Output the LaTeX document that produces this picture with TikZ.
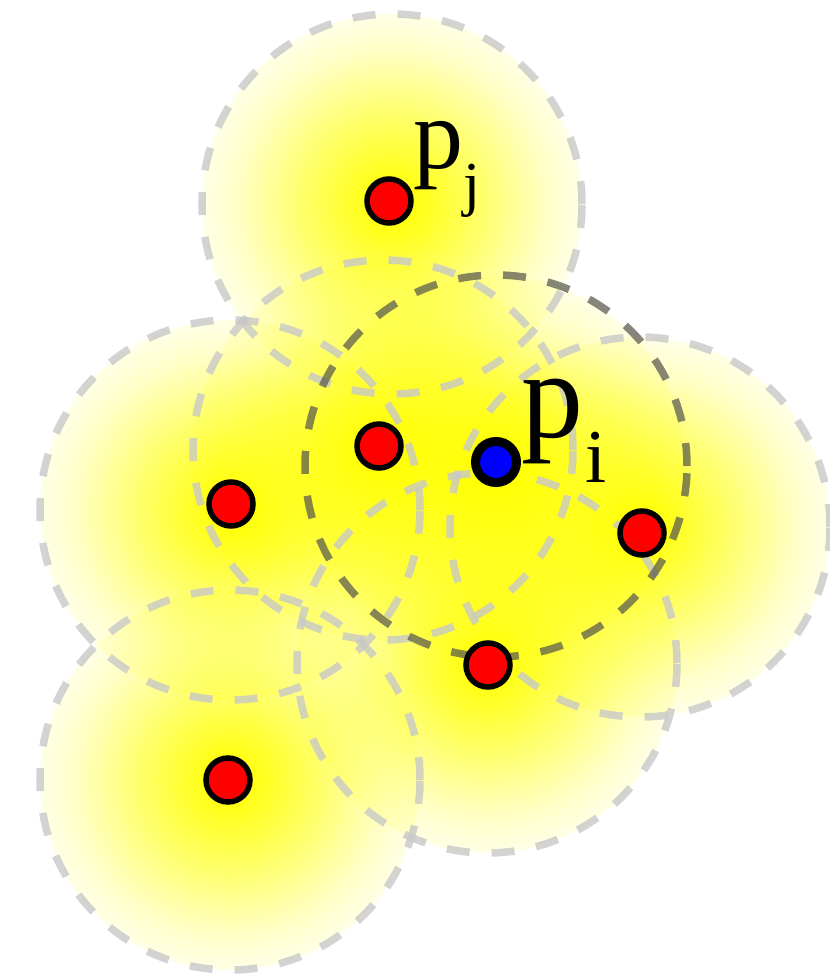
\documentclass[tikz,border=0pt]{standalone}
\usepackage{fontspec}
\setmainfont{Liberation Serif}
\usetikzlibrary{fadings}
\definecolor{fadmid}{gray}{0.6}
\definecolor{fadout}{gray}{0.22}
\pgfdeclareradialshading{glowshade}{\pgfpointorigin}{color(0bp)=(white); color(1bp)=(white); color(10bp)=(fadmid); color(18bp)=(fadout); color(25bp)=(black); color(50bp)=(black)}
\begin{tikzfadingfrompicture}[name=glowfade]
  \shade[shading=glowshade] (-1,-1) rectangle (1,1);
\end{tikzfadingfrompicture}
\definecolor{ringgray}{RGB}{200,200,200}
\definecolor{ringdarkc}{RGB}{88,88,78}
\definecolor{ptred}{RGB}{255,0,0}
\definecolor{ptblue}{RGB}{0,0,255}
\definecolor{glowyellow}{RGB}{255,255,0}
\tikzset{
  glow/.style={fill=glowyellow, path fading=glowfade},
  ring/.style={draw=ringgray, draw opacity=0.8, line width=7.5pt, dash pattern=on 23pt off 22pt},
  ringdark/.style={draw=ringdarkc, draw opacity=0.72, line width=7.5pt, dash pattern=on 23pt off 22pt},
  redpt/.style={circle, inner sep=0pt, minimum size=44pt, fill=ptred, draw=black, line width=5.5pt},
  bluept/.style={circle, inner sep=0pt, minimum size=41pt, fill=ptblue, draw=black, line width=9pt},
  lab/.style={inner sep=0pt, outer sep=0pt, anchor=base west, text=black}
}
\begin{document}
\begin{tikzpicture}[x=1pt, y=-1pt]
  \useasboundingbox[fill=white] (0,0) rectangle (830,975);
  % centres
  \coordinate (cj) at (392,204);
  \coordinate (ca) at (383,450);
  \coordinate (ci) at (496,466);
  \coordinate (cb) at (230,510);
  \coordinate (cc) at (640,527);
  \coordinate (cd) at (487,663);
  \coordinate (ce) at (230,780);
  % glows
  \foreach \c in {ce,cd,cb,cc,ca,cj,ci}{
    \fill[glow] (\c) circle[radius=190pt];
  }
  % rings
  \foreach \c in {ce,cd,cb,cc,ca,cj}{
    \draw[ring] (\c) circle[radius=190pt];
  }
  \draw[ringdark] (ci) circle[radius=191pt];
  % points
  \node[redpt] (pj) at (389,201) {};
  \node[redpt] (pa) at (379,446) {};
  \node[redpt] (pb) at (231,504) {};
  \node[redpt] (pc) at (642,533) {};
  \node[redpt] (pd) at (488,665) {};
  \node[redpt] (pe) at (228,780) {};
  \node[bluept] (pi) at (496,462) {};
  % labels
  \node[lab, font=\fontsize{100}{100}\selectfont] (ljp) at (413,168) {p};
  \node[lab, font=\fontsize{61}{61}\selectfont] (ljs) at (463,204) {j};
  \node[lab, font=\fontsize{124}{124}\selectfont] (lip) at (521,437) {p};
  \node[lab, font=\fontsize{76}{76}\selectfont] (lis) at (585,482) {i};
\end{tikzpicture}
\end{document}
